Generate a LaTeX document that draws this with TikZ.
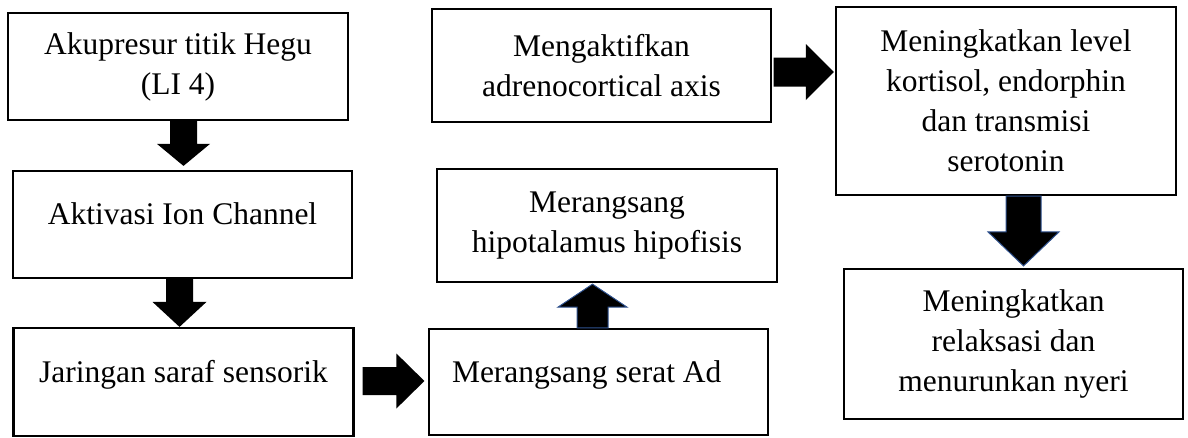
\documentclass[tikz,border=0pt]{standalone}
\usepackage{fontspec}
\setmainfont{Liberation Serif}
\usepackage{xcolor}
\usetikzlibrary{
    arrows.meta,
    shapes,
    calc
}
\definecolor{arrowblue}{HTML}{2F528F}
\tikzset{%
    % Specifications for style of nodes:
    box-node/.style = {
        rectangle, draw=black, line width=2.2pt,
        inner sep=0pt, text centered, align=center,
        font=\fontsize{31.5}{40}\selectfont
    },
    one-line/.style = {text height=0.7em, text depth=0.7em},
    block/.style = {fill=black},
    block-blue/.style = {block, draw=arrowblue, line width=1pt}
}
% block arrow: [style]{from}{to}{half shaft}{half head}{head length}
\newcommand{\blockarrow}[6][block]{%
    \path (#2) coordinate (ba-s) (#3) coordinate (ba-e);
    \path ($(ba-e)!#6!(ba-s)$) coordinate (ba-h);
    \path[#1] ($(ba-s)!#4!90:(ba-e)$) -- ($(ba-h)!#4!-90:(ba-s)$)
        -- ($(ba-h)!#5!-90:(ba-s)$) -- (ba-e) -- ($(ba-h)!#5!90:(ba-s)$)
        -- ($(ba-h)!#4!90:(ba-s)$) -- ($(ba-s)!#4!-90:(ba-e)$) -- cycle;
}

\begin{document}
\begin{tikzpicture}[x=1pt, y=-1pt]
    \useasboundingbox (0,0) rectangle (1188,437);
    \node[box-node, minimum width=340, minimum height=107] (N1) at (178,66.5) {Akupresur titik Hegu\\(LI 4)};
    \node[box-node, one-line, minimum width=339, minimum height=107] (N2) at (182.5,224.5) {Aktivasi Ion Channel};
    \node[box-node, one-line, minimum width=340, minimum height=108] (N3) at (183.5,382) {Jaringan saraf sensorik};
    \node[box-node, one-line, minimum width=339, minimum height=106, text width=293, align=flush left, inner xsep=23pt] (N4) at (598.5,382) {Merangsang serat Ad};
    \node[box-node, minimum width=340, minimum height=113] (N5) at (607,225.5) {Merangsang\\hipotalamus hipofisis};
    \node[box-node, minimum width=339, minimum height=113] (N6) at (601.5,65.5) {Mengaktifkan\\adrenocortical axis};
    \node[box-node, minimum width=340, minimum height=188] (N7) at (1006,101) {Meningkatkan level\\kortisol, endorphin\\dan transmisi\\serotonin};
    \node[box-node, minimum width=339, minimum height=150] (N8) at (1013.5,344) {Meningkatkan\\relaksasi dan\\menurunkan nyeri};

    \blockarrow{$(N1.south)+(5.5,0)$}{$(N2.north)+(1,-4)$}{13.5pt}{26.5pt}{22pt}
    \blockarrow{$(N2.south)+(-3,0)$}{$(N3.north)+(-4,0)$}{13.5pt}{27pt}{25pt}
    \blockarrow{$(N3.east)+(8,-1)$}{$(N4.west)+(-3.5,-1)$}{14pt}{27.5pt}{28pt}
    \blockarrow[block-blue]{$(N4.north)+(-6,0)$}{$(N5.south)+(-14.5,1)$}{15.5pt}{34.5pt}{23pt}
    \blockarrow{$(N6.east)+(1.5,6.5)$}{$(N7.west)+(-1,-29)$}{14.5pt}{28pt}{28pt}
    \blockarrow[block-blue]{$(N7.south)+(17.5,0)$}{$(N8.north)+(10,-2)$}{17.5pt}{35.5pt}{34pt}
\end{tikzpicture}
\end{document}
